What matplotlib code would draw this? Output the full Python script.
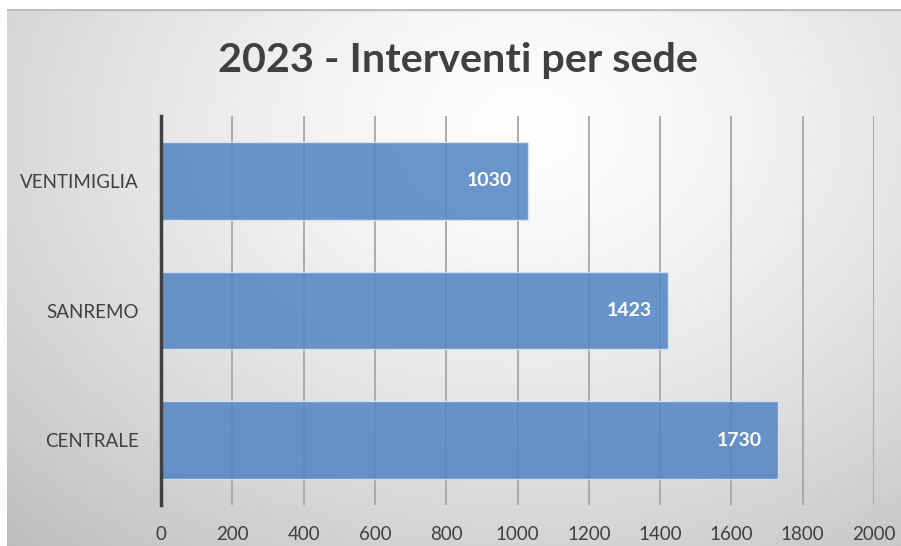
import numpy as np
import matplotlib
matplotlib.use("Agg")
import matplotlib.pyplot as plt

# data
sedi = ["CENTRALE", "SANREMO", "VENTIMIGLIA"]
interventi = [1730, 1423, 1030]
xticks = [0, 200, 400, 600, 800, 1000, 1200, 1400, 1600, 1800, 2000]

plt.rcParams['font.family'] = ['Lato', 'DejaVu Sans']
text_color = "#404040"

fig = plt.figure(figsize=(9.01, 5.46), dpi=100, facecolor="white")

# radial gradient background panel
bx0 = 7 / 901
by1 = (546 - 9) / 546
bg = fig.add_axes([bx0, 0, 1 - bx0, by1], zorder=-10)
gx, gy = np.meshgrid(np.linspace(0, 1, 400), np.linspace(0, 1, 250))
r = np.sqrt(((gx - 0.58) / 0.72) ** 2 + ((gy - 0.22) / 0.9) ** 2)
shade = 0.995 - 0.2 * np.clip(r, 0, 1.2) ** 1.4
bg.imshow(np.dstack([shade] * 3), aspect="auto", extent=[0, 1, 0, 1], origin="upper")
bg.axhline(1, color="#bdbdbd", lw=2.5)
bg.set_xlim(0, 1)
bg.set_ylim(0, 1)
bg.axis("off")

ax = fig.add_axes([161 / 901, 41 / 546, 713 / 901, 389 / 546])
ax.patch.set_alpha(0)

bars = ax.barh(sedi, interventi, height=0.6, color="#5486c4", alpha=0.87,
               edgecolor="#dde6f2", linewidth=1, zorder=3)
for bar, v in zip(bars, interventi):
    ax.text(bar.get_width() - 45, bar.get_y() + bar.get_height() / 2, str(v),
            ha="right", va="center", color="white", fontsize=14,
            fontweight="bold", zorder=4)

ax.set_xlim(0, 2000)
ax.set_ylim(-0.5, 2.5)
ax.set_xticks(xticks)
ax.grid(axis="x", color="#a6a6a6", lw=1.3, zorder=1)
ax.grid(axis="y", visible=False)
for s in ["top", "right", "bottom"]:
    ax.spines[s].set_visible(False)
ax.spines["left"].set_color("#404040")
ax.spines["left"].set_linewidth(2.5)
ax.spines["left"].set_zorder(5)
ax.tick_params(axis="both", length=0, labelsize=13.5, labelcolor=text_color)
ax.tick_params(axis="x", pad=15)
ax.tick_params(axis="y", pad=16)

fig.text(458 / 901, 1 - 60 / 546, "2023 - Interventi per sede", ha="center",
         va="center", fontsize=29.8, fontweight="bold", color=text_color)

fig.savefig("out.png", dpi=100, facecolor="white")
